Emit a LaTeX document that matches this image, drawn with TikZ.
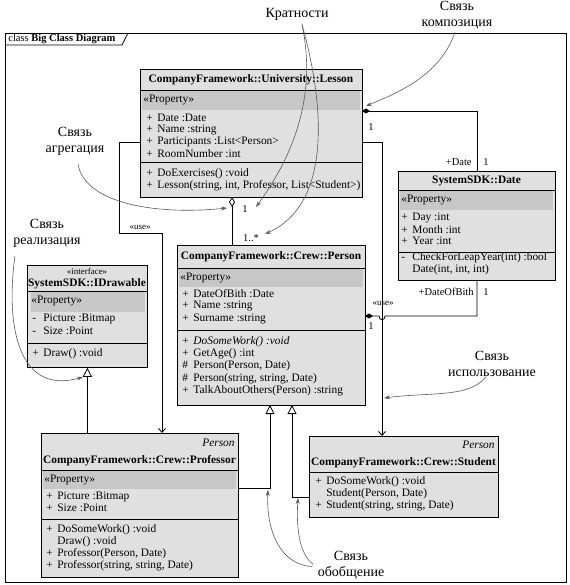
\documentclass[tikz,border=0pt]{standalone}
\usepackage{fontspec}
\setmainfont{Liberation Serif}
\usepackage{tikz}
\usetikzlibrary{arrows.meta}
\usetikzlibrary{positioning}
\definecolor{boxgray}{gray}{0.88}
\definecolor{bandgray}{gray}{0.78}
\definecolor{notegray}{gray}{0.35}
\newcommand{\visib}[1]{\makebox[11pt][l]{#1}}

\begin{document}
\begin{tikzpicture}[x=1pt,y=-1pt,>=Stealth,line width=0.8pt,
		cls/.style={draw,fill=boxgray,inner sep=0pt,anchor=north west},
		band/.style={fill=bandgray},
		ttl/.style={font=\fontsize{11.4}{13}\selectfont\bfseries,inner sep=0pt},
		txt/.style={font=\fontsize{11.4}{13}\selectfont,inner sep=0pt,anchor=west},
		lbl/.style={font=\fontsize{10.5}{12}\selectfont,inner sep=0pt},
		note/.style={font=\fontsize{14}{16}\selectfont,align=center,inner sep=0pt},
		notearr/.style={-{Stealth[length=6pt,width=4pt]},notegray,line width=0.6pt},
		use/.style={-{Straight Barb[length=4pt,width=7pt]}},
		gen/.style={-{Triangle[open,length=9pt,width=9pt]}},
		comp/.style={{Diamond[length=8pt,width=5pt]}-},
		aggr/.style={{Diamond[open,length=10pt,width=6pt]}-}]
			\useasboundingbox (0,0) rectangle (569,585);
			\draw (5,33) rectangle (566,582);
			\draw (5,45) -- (122,45) -- (128,33);
			\node[lbl,anchor=west] (frameLbl) at (8,39.5) {class \textbf{Big Class Diagram}};
			% Lesson
			\node[cls,minimum width=222pt,minimum height=128pt] (lesson) at (140,69) {};
			\fill[band] (142,91) rectangle (360,110);
			\draw (140,90) -- (362,90) (140,162) -- (362,162);
			\node[ttl] (lessonT) at (251,80) {CompanyFramework::University::Lesson};
			\node[txt] (lessonP) at (143,100) {«Property»};
			\node[txt] (lessonA1) at (146,118) {\visib{+}Date :Date};
			\node[txt] (lessonA2) at (146,130) {\visib{+}Name :string};
			\node[txt] (lessonA3) at (146,142) {\visib{+}Participants :List<Person>};
			\node[txt] (lessonA4) at (146,154) {\visib{+}RoomNumber :int};
			\node[txt] (lessonM1) at (146,174) {\visib{+}DoExercises() :void};
			\node[txt] (lessonM2) at (146,186) {\visib{+}Lesson(string, int, Professor, List<Student>)};
			% Date
			\node[cls,minimum width=157pt,minimum height=109pt] (date) at (398,171) {};
			\fill[band] (400,191) rectangle (553,210);
			\draw (398,190) -- (555,190) (398,252) -- (555,252);
			\node[ttl] (dateT) at (476.5,181) {SystemSDK::Date};
			\node[txt] (dateP) at (401,200) {«Property»};
			\node[txt] (dateA1) at (401,218) {\visib{+}Day :int};
			\node[txt] (dateA2) at (401,230) {\visib{+}Month :int};
			\node[txt] (dateA3) at (401,241) {\visib{+}Year :int};
			\node[txt] (dateM1) at (401,258) {\visib{-}CheckForLeapYear(int) :bool};
			\node[txt] (dateM2) at (401,270) {\visib{}Date(int, int, int)};
			% Person
			\node[cls,minimum width=188pt,minimum height=160pt] (person) at (177,245) {};
			\fill[band] (179,269) rectangle (363,287);
			\draw (177,268) -- (365,268) (177,330) -- (365,330);
			\node[ttl] (personT) at (271,257) {CompanyFramework::Crew::Person};
			\node[txt] (personP) at (180,278) {«Property»};
			\node[txt] (personA1) at (182,294) {\visib{+}DateOfBith :Date};
			\node[txt] (personA2) at (182,306) {\visib{+}Name :string};
			\node[txt] (personA3) at (182,319) {\visib{+}Surname :string};
			\node[txt] (personM1) at (182,342) {\visib{+}\textit{DoSomeWork() :void}};
			\node[txt] (personM2) at (182,354) {\visib{+}GetAge() :int};
			\node[txt] (personM3) at (182,366) {\visib{\#}Person(Person, Date)};
			\node[txt] (personM4) at (182,379) {\visib{\#}Person(string, string, Date)};
			\node[txt] (personM5) at (182,391) {\visib{+}TalkAboutOthers(Person) :string};
			% IDrawable
			\node[cls,minimum width=120pt,minimum height=102pt] (drawable) at (27,265) {};
			\fill[band] (31,292) rectangle (145,312);
			\draw (27,291) -- (147,291) (27,343) -- (147,343);
			\node[lbl,font=\fontsize{9}{10}\selectfont] (drawableS) at (87,271) {«interface»};
			\node[ttl] (drawableT) at (87,284) {SystemSDK::IDrawable};
			\node[txt] (drawableP) at (31,301) {«Property»};
			\node[txt] (drawableA1) at (32,319) {\visib{-}Picture :Bitmap};
			\node[txt] (drawableA2) at (32,331) {\visib{-}Size :Point};
			\node[txt] (drawableM1) at (32,354) {\visib{+}Draw() :void};
			% Professor
			\node[cls,minimum width=197pt,minimum height=144pt] (professor) at (41,433) {};
			\fill[band] (43,471) rectangle (236,489);
			\draw (41,470) -- (238,470) (41,519) -- (238,519);
			\node[txt,anchor=east] (professorS) at (235,443) {\textit{Person}};
			\node[ttl] (professorT) at (139.5,461) {CompanyFramework::Crew::Professor};
			\node[txt] (professorP) at (44,480) {«Property»};
			\node[txt] (professorA1) at (46,497) {\visib{+}Picture :Bitmap};
			\node[txt] (professorA2) at (46,508) {\visib{+}Size :Point};
			\node[txt] (professorM1) at (46,530) {\visib{+}DoSomeWork() :void};
			\node[txt] (professorM2) at (46,542) {\visib{}Draw() :void};
			\node[txt] (professorM3) at (46,554) {\visib{+}Professor(Person, Date)};
			\node[txt] (professorM4) at (46,566) {\visib{+}Professor(string, string, Date)};
			% Student
			\node[cls,minimum width=189pt,minimum height=81pt] (student) at (309,436) {};
			\draw (309,472) -- (498,472);
			\node[txt,anchor=east] (studentS) at (495,445) {\textit{Person}};
			\node[ttl] (studentT) at (403.5,463) {CompanyFramework::Crew::Student};
			\node[txt] (studentM1) at (315,482) {\visib{+}DoSomeWork() :void};
			\node[txt] (studentM2) at (315,494) {\visib{}Student(Person, Date)};
			\node[txt] (studentM3) at (315,506) {\visib{+}Student(string, string, Date)};
			% connectors
			\coordinate (lessonComp) at (362,111);
			\coordinate (lessonAgg) at (232,197);
			\coordinate (lessonUseL) at (140,142);
			\coordinate (lessonUseR) at (362,142);
			\coordinate (personComp) at (365,316);
			\coordinate (personGenL) at (270,405);
			\coordinate (personGenR) at (292,405);
			\coordinate (profUse) at (162,433);
			\coordinate (profGen) at (238,488);
			\coordinate (studUse) at (382,436);
			\coordinate (studGen) at (309,497);
			\draw[comp] (lessonComp) -| (date.north);
			\draw[comp] (personComp) -- (379,316) .. controls (379,321) and (385,321) .. (385,316) -| (date.south);
			\draw[aggr] (lessonAgg) -- (lessonAgg |- person.north);
			\draw[use] (lessonUseL) -| (119,233) -| (profUse);
			\draw[use] (lessonUseR) -| (studUse);
			\draw[gen] (drawable.south |- professor.north) -- (drawable.south);
			\draw[gen] (profGen) -| (personGenL);
			\draw[gen] (studGen) -| (personGenR);
			\node[lbl] (compOne) at (371,127) {1};
			\node[lbl,anchor=east] (compRole) at (472,162) {+Date};
			\node[lbl] (compMult) at (486,162) {1};
			\node[lbl,anchor=east] (birthRole) at (474,292) {+DateOfBith};
			\node[lbl] (birthMult) at (486,292) {1};
			\node[lbl] (birthOne) at (371,326) {1};
			\node[lbl] (aggOne) at (245,209) {1};
			\node[lbl] (aggMany) at (251,238) {1..*};
			\node[lbl,font=\fontsize{9}{10}\selectfont] (useL) at (140,227) {«use»};
			\node[lbl,font=\fontsize{9}{10}\selectfont] (useR) at (383,303) {«use»};
			% notes
			\node[note] (noteMult) at (297,14) {Кратности};
			\node[note] (noteComp) at (457,15) {Связь\\композиция};
			\node[note] (noteAgg) at (75,141.5) {Связь\\агрегация};
			\node[note] (noteReal) at (47,233.5) {Связь\\реализация};
			\node[note] (noteUse) at (492,363.5) {Связь\\использование};
			\node[note] (noteGen) at (351,565.5) {Связь\\обобщение};
			\coordinate (multA) at (256,207);
			\coordinate (multB) at (265,234);
			\coordinate (compTip) at (366,106);
			\coordinate (aggTip) at (227,208);
			\coordinate (realTip) at (83,377);
			\coordinate (useTip) at (384,398);
			\coordinate (genTipA) at (268,490);
			\coordinate (genTipB) at (298,498);
			\draw[notearr] ([shift={(5,4)}]noteMult.south) .. controls (318,100) and (290,160) .. (multA);
			\draw[notearr] ([shift={(5,4)}]noteMult.south) .. controls (326,110) and (330,205) .. (multB);
			\draw[notearr] ([shift={(-2,3)}]noteComp.south) .. controls (440,75) and (400,92) .. (compTip);
			\draw[notearr] ([shift={(3,8)}]noteAgg.south) .. controls (85,205) and (160,215) .. (aggTip);
			\draw[notearr] ([shift={(2,8)}]noteReal.south west) .. controls (5,330) and (20,395) .. (realTip);
			\draw[notearr] ([shift={(-6,0)}]noteUse.south) .. controls (470,398) and (430,392) .. (useTip);
			\draw[notearr] ([shift={(-5,1)}]noteGen.west) .. controls (280,565) and (266,530) .. (genTipA);
			\draw[notearr] ([shift={(-4,-1)}]noteGen.west) .. controls (300,555) and (296,530) .. (genTipB);
		\end{tikzpicture}
\end{document}
